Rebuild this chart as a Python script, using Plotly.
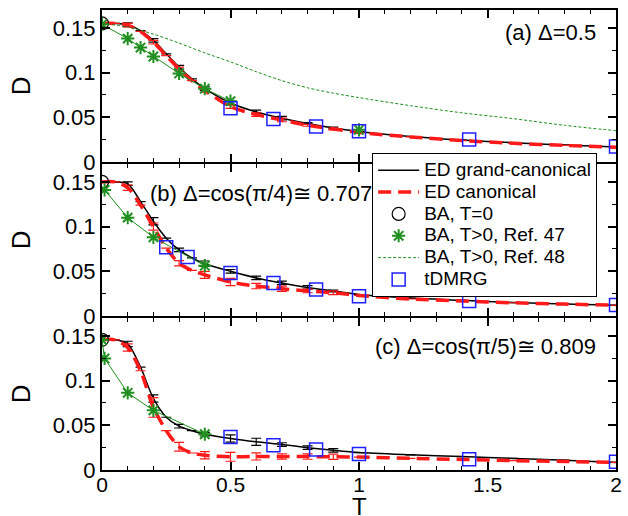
import plotly.graph_objects as go
from plotly.subplots import make_subplots

# ---------------- data ----------------
T_ed = [0, 0.05, 0.1, 0.15, 0.2, 0.25, 0.3, 0.35, 0.4, 0.5, 0.6, 0.7, 0.8, 0.9, 1.0, 1.2, 1.4, 1.6, 1.8, 2.0]

# panel (a) Delta = 0.5
ed_gc_a = [0.155, 0.155, 0.1535, 0.147, 0.136, 0.121, 0.106, 0.093, 0.082, 0.066, 0.056, 0.049, 0.043, 0.038, 0.034, 0.0285, 0.0245, 0.0215, 0.019, 0.0168]
ed_c_a = [0.155, 0.155, 0.153, 0.146, 0.134, 0.119, 0.104, 0.091, 0.080, 0.062, 0.053, 0.047, 0.041, 0.037, 0.033, 0.028, 0.024, 0.021, 0.0185, 0.0165]
err_gc_a = [None, None, 0.002, None, 0.002, None, 0.002, None, 0.002, 0.002, 0.002, 0.002, 0.001, 0.001, None, None, None, None, None, None]
err_c_a = [None, None, 0.002, None, 0.002, None, 0.002, None, 0.002, 0.002, 0.002, 0.002, 0.001, 0.001, None, None, None, None, None, None]

# panel (b) Delta = cos(pi/4)
ed_gc_b = [0.150, 0.150, 0.148, 0.128, 0.106, 0.087, 0.074, 0.065, 0.0585, 0.050, 0.0426, 0.037, 0.032, 0.028, 0.024, 0.020, 0.0175, 0.015, 0.0135, 0.012]
ed_c_b = [0.150, 0.150, 0.1435, 0.124, 0.100, 0.076, 0.059, 0.051, 0.046, 0.038, 0.0335, 0.0305, 0.028, 0.026, 0.023, 0.019, 0.0168, 0.0148, 0.0133, 0.012]
err_gc_b = [None, None, 0.002, None, 0.004, None, 0.002, None, 0.003, 0.002, 0.002, 0.002, 0.002, 0.001, None, None, None, None, None, None]
err_c_b = [None, None, 0.003, None, 0.004, None, 0.003, None, 0.004, 0.004, 0.003, 0.003, 0.002, 0.002, None, None, None, None, None, None]

# panel (c) Delta = cos(pi/5)
ed_gc_c = [0.1456, 0.1456, 0.141, 0.115, 0.080, 0.059, 0.049, 0.044, 0.040, 0.0352, 0.0315, 0.0285, 0.025, 0.022, 0.0195, 0.017, 0.015, 0.013, 0.011, 0.0085]
ed_c_c = [0.1456, 0.1456, 0.137, 0.111, 0.070, 0.044, 0.026, 0.019, 0.0165, 0.0148, 0.0152, 0.0152, 0.015, 0.0148, 0.0145, 0.013, 0.0118, 0.0105, 0.0095, 0.0085]
err_gc_c = [None, None, 0.003, None, 0.004, None, 0.002, None, 0.002, 0.004, 0.004, 0.002, 0.002, 0.002, None, None, None, None, None, None]
err_c_c = [None, None, 0.004, None, 0.011, None, 0.005, None, 0.004, 0.005, 0.004, 0.003, 0.003, 0.003, None, None, None, None, None, None]

# Bethe ansatz T=0
ba0_T = [0]
ba0_a = [0.155]
ba0_b = [0.150]
ba0_c = [0.1456]

# Bethe ansatz T>0, Ref. 47
ba47_T_a = [0.0, 0.1, 0.15, 0.2, 0.3, 0.4, 0.5, None, 1.0]
ba47_D_a = [0.154, 0.138, 0.128, 0.118, 0.099, 0.082, 0.068, None, 0.036]
ba47_T_b = [0.01, 0.1, 0.2, 0.4]
ba47_D_b = [0.141, 0.110, 0.088, 0.0563]
ba47_T_c = [0.0, 0.01, 0.1, 0.2, 0.4]
ba47_D_c = [0.1456, 0.1248, 0.0863, 0.0667, 0.040]

# Bethe ansatz T>0, Ref. 48 (panel a only)
ba48_T = [0, 0.1, 0.2, 0.3, 0.4, 0.5, 0.6, 0.7, 0.8, 0.9, 1.0, 1.2, 1.4, 1.6, 1.8, 2.0]
ba48_D = [0.155, 0.151, 0.143, 0.133, 0.122, 0.112, 0.101, 0.091, 0.083, 0.077, 0.072, 0.063, 0.055, 0.0485, 0.041, 0.035]

# tDMRG
dm_T_a = [0.5, 0.667, 0.833, 1.0, 1.4286, 2.0]
dm_D_a = [0.060, 0.048, 0.0396, 0.0344, 0.0251, 0.0174]
dm_T_b = [0.25, 0.333, 0.5, 0.667, 0.833, 1.0, 1.4286, 2.0]
dm_D_b = [0.077, 0.066, 0.048, 0.037, 0.0297, 0.0222, 0.0167, 0.0122]
dm_T_c = [0.5, 0.667, 0.833, 1.0, 1.4286, 2.0]
dm_D_c = [0.037, 0.0278, 0.023, 0.0178, 0.0119, 0.0093]

x_ticks = [0, 0.5, 1, 1.5, 2]
x_ticklabels = ["0", "0.5", "1", "1.5", "2"]
y_ticks = [0, 0.05, 0.1, 0.15]
y_ticklabels = ["0", "0.05", "0.1", "0.15"]

panel_labels = ["(a) Δ=0.5", "(b) Δ=cos(π/4)≅ 0.707", "(c) Δ=cos(π/5)≅ 0.809"]
legend_names = ["ED grand-canonical", "ED canonical", "BA, T=0",
                "BA, T>0, Ref. 47", "BA, T>0, Ref. 48", "tDMRG"]

# ---------------- figure ----------------
FONT = "Liberation Sans, Arial, sans-serif"
GREEN = "#1f8f1f"
RED = "#ff1a1a"
BLUE = "#2020ff"


def lname(s):
    return '<span style="font-size:19px">' + s + '</span>'


fig = make_subplots(rows=3, cols=1, shared_xaxes=True, vertical_spacing=2 / 460)

panels = [
    (ed_gc_a, ed_c_a, err_gc_a, err_c_a, ba0_a, ba47_T_a, ba47_D_a, dm_T_a, dm_D_a),
    (ed_gc_b, ed_c_b, err_gc_b, err_c_b, ba0_b, ba47_T_b, ba47_D_b, dm_T_b, dm_D_b),
    (ed_gc_c, ed_c_c, err_gc_c, err_c_c, ba0_c, ba47_T_c, ba47_D_c, dm_T_c, dm_D_c),
]

for i, (gc, cn, egc, ecn, b0, s_T, s_D, d_T, d_D) in enumerate(panels):
    row = i + 1
    first = (i == 0)
    fig.add_trace(go.Scatter(
        x=T_ed, y=gc, mode="lines", name=lname(legend_names[0]),
        line=dict(color="black", width=1.5, shape="spline", smoothing=0.8),
        error_y=dict(type="data", array=egc, color="black", thickness=1.2, width=5, visible=True),
        showlegend=first, legendrank=1), row=row, col=1)
    fig.add_trace(go.Scatter(
        x=T_ed, y=cn, mode="lines", name=lname(legend_names[1]),
        line=dict(color=RED, width=3.5, dash="13px,7px", shape="spline", smoothing=0.8),
        error_y=dict(type="data", array=ecn, color=RED, thickness=1.2, width=5, visible=True),
        showlegend=first, legendrank=2), row=row, col=1)
    fig.add_trace(go.Scatter(
        x=ba0_T, y=b0, mode="markers", name=lname(legend_names[2]),
        marker=dict(symbol="circle-open", size=13, color="black", line=dict(width=1.2)),
        showlegend=first, legendrank=3), row=row, col=1)
    fig.add_trace(go.Scatter(
        x=s_T, y=s_D, mode="lines+markers", name=lname(legend_names[3]),
        line=dict(color=GREEN, width=1),
        marker=dict(symbol="asterisk-open", size=11, color=GREEN, line=dict(width=2, color=GREEN)),
        showlegend=False), row=row, col=1)
    if first:
        fig.add_trace(go.Scatter(
            x=[None], y=[None], mode="markers", name=lname(legend_names[3]),
            marker=dict(symbol="asterisk-open", size=11, color=GREEN, line=dict(width=2, color=GREEN)),
            showlegend=True, legendrank=4), row=row, col=1)
        fig.add_trace(go.Scatter(
            x=ba48_T, y=ba48_D, mode="lines", name=lname(legend_names[4]),
            line=dict(color=GREEN, width=1, dash="3px,2px", shape="spline", smoothing=0.8),
            showlegend=True, legendrank=5), row=row, col=1)
    fig.add_trace(go.Scatter(
        x=d_T, y=d_D, mode="markers", name=lname(legend_names[5]),
        marker=dict(symbol="square-open", size=13, color=BLUE, line=dict(width=1.5)),
        showlegend=first, legendrank=6), row=row, col=1)

for r in (1, 2, 3):
    fig.update_xaxes(
        range=[0, 2], tickvals=x_ticks, ticktext=x_ticklabels,
        ticks="inside", ticklen=8, tickwidth=1.5, tickcolor="black",
        minor=dict(dtick=0.1, tick0=0, ticks="inside", ticklen=4, tickwidth=1.2, tickcolor="black"),
        showline=True, linecolor="black", linewidth=2, mirror="allticks",
        showgrid=False, zeroline=False,
        tickfont=dict(family=FONT, size=21, color="black"),
        row=r, col=1)
    fig.update_yaxes(
        range=[0, 0.17], tickvals=y_ticks, ticktext=y_ticklabels,
        ticks="inside", ticklen=8, tickwidth=1.5, tickcolor="black",
        minor=dict(dtick=0.025, tick0=0, ticks="inside", ticklen=4, tickwidth=1.2, tickcolor="black"),
        showline=True, linecolor="black", linewidth=2, mirror="allticks",
        showgrid=False, zeroline=False,
        tickfont=dict(family=FONT, size=22, color="black"),
        row=r, col=1)

fig.update_xaxes(showticklabels=True, ticklabelposition="outside", ticklabelstandoff=-5, row=3, col=1)

annotations = []
annotations.append(dict(text=panel_labels[0], xref="x domain", yref="y domain", x=0.965, y=0.849,
                        xanchor="right", yanchor="middle", showarrow=False,
                        font=dict(family=FONT, size=22, color="black")))
annotations.append(dict(text=panel_labels[1], xref="x2 domain", yref="y2 domain", x=0.09, y=0.809,
                        xanchor="left", yanchor="middle", showarrow=False,
                        font=dict(family=FONT, size=22, color="black")))
annotations.append(dict(text=panel_labels[2], xref="x3 domain", yref="y3 domain", x=0.965, y=0.811,
                        xanchor="right", yanchor="middle", showarrow=False,
                        font=dict(family=FONT, size=22, color="black")))
for yd in ("y domain", "y2 domain", "y3 domain"):
    annotations.append(dict(text="D", xref="paper", yref=yd, x=-0.157, y=0.5,
                            xanchor="center", yanchor="middle", textangle=-90, showarrow=False,
                            font=dict(family=FONT, size=26, color="black")))
annotations.append(dict(text="T", xref="paper", yref="paper", x=0.5, y=-0.08,
                        xanchor="center", yanchor="middle", showarrow=False,
                        font=dict(family=FONT, size=24, color="black")))

fig.update_layout(
    width=628, height=516,
    margin=dict(l=102, r=6, t=10, b=46),
    paper_bgcolor="white", plot_bgcolor="white",
    font=dict(family=FONT, color="black"),
    annotations=annotations,
    legend=dict(x=0.5256, y=0.6885, xanchor="left", yanchor="top",
                bgcolor="white", bordercolor="black", borderwidth=1,
                font=dict(family=FONT, size=14.5, color="black"),
                tracegroupgap=0, itemwidth=41),
)

fig.write_html("out.html")
